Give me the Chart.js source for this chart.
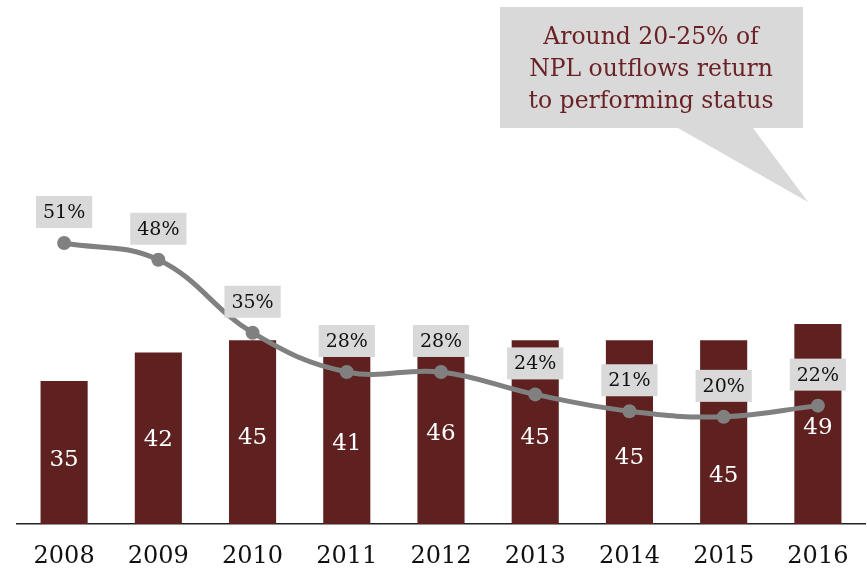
<!DOCTYPE html>
<html>
<head>
<meta charset="utf-8">
<script src="https://cdn.jsdelivr.net/npm/chart.js@4/dist/chart.umd.min.js"></script>
<style>
  html, body { margin: 0; padding: 0; background: #ffffff; }
  #wrap { width: 867px; height: 573px; position: relative; }
</style>
</head>
<body>
<div id="wrap"><canvas id="c" width="867" height="573"></canvas></div>
<script>
// NPL outflows (bars) and share returning to performing status (line, %)
const years = ['2008', '2009', '2010', '2011', '2012', '2013', '2014', '2015', '2016'];
const outflows = [35, 42, 45, 41, 46, 45, 45, 45, 49];
const returnShare = [51, 48, 35, 28, 28, 24, 21, 20, 22];
const calloutLines = ['Around 20-25% of', 'NPL outflows return', 'to performing status'];

// where each bar's value sits, as a fraction of the bar height from its base
const barLabelFrac = [0.45, 0.49, 0.47, 0.48, 0.48, 0.47, 0.36, 0.26, 0.48];

const SERIF = '"DejaVu Serif", "Liberation Serif", serif';
const BAR_COLOR = '#5e2120';
const LINE_COLOR = '#808080';
const BOX_COLOR = '#d9d9d9';

const labelPlugin = {
  id: 'labels',
  afterDatasetsDraw(chart) {
    const ctx = chart.ctx;
    const barMeta = chart.getDatasetMeta(0);
    const lineMeta = chart.getDatasetMeta(1);
    ctx.save();
    ctx.textAlign = 'center';
    ctx.textBaseline = 'middle';

    // values inside the bars
    ctx.font = '23px ' + SERIF;
    ctx.fillStyle = '#ffffff';
    barMeta.data.forEach((bar, i) => {
      const y = bar.base - (bar.base - bar.y) * barLabelFrac[i];
      ctx.fillText(String(outflows[i]), bar.x, y);
    });

    // percentage tags above the line points
    ctx.font = '19px ' + SERIF;
    lineMeta.data.forEach((pt, i) => {
      const txt = returnShare[i] + '%';
      const w = ctx.measureText(txt).width + 14;
      const h = 32;
      const cy = pt.y - 31;
      ctx.fillStyle = BOX_COLOR;
      ctx.fillRect(pt.x - w / 2, cy - h / 2, w, h);
      ctx.fillStyle = '#111111';
      ctx.fillText(txt, pt.x, cy + 1);
    });
    ctx.restore();
  },
  afterDraw(chart) {
    const ctx = chart.ctx;
    ctx.save();
    // speech-bubble callout
    ctx.fillStyle = BOX_COLOR;
    ctx.beginPath();
    ctx.moveTo(500, 7);
    ctx.lineTo(803, 7);
    ctx.lineTo(803, 128);
    ctx.lineTo(753, 128);
    ctx.lineTo(808, 202);
    ctx.lineTo(678, 128);
    ctx.lineTo(500, 128);
    ctx.closePath();
    ctx.fill();
    ctx.fillStyle = '#6b2226';
    ctx.font = '23.5px ' + SERIF;
    ctx.textAlign = 'center';
    ctx.textBaseline = 'middle';
    calloutLines.forEach((line, i) => {
      ctx.fillText(line, 651, 38 + i * 32);
    });
    ctx.restore();
  }
};

new Chart(document.getElementById('c'), {
  data: {
    labels: years,
    datasets: [
      {
        type: 'bar',
        data: outflows,
        backgroundColor: BAR_COLOR,
        borderWidth: 0,
        categoryPercentage: 1.0,
        barPercentage: 0.5,
        yAxisID: 'y',
        order: 2
      },
      {
        type: 'line',
        data: returnShare,
        borderColor: LINE_COLOR,
        backgroundColor: LINE_COLOR,
        borderWidth: 5,
        pointRadius: 7,
        pointBackgroundColor: LINE_COLOR,
        pointBorderWidth: 0,
        tension: 0.4,
        yAxisID: 'y1',
        order: 1
      }
    ]
  },
  options: {
    responsive: false,
    animation: false,
    layout: { autoPadding: false, padding: { left: 17, right: 2, top: 34, bottom: 0 } },
    plugins: { legend: { display: false }, tooltip: { enabled: false } },
    scales: {
      x: {
        grid: { display: false, drawTicks: false },
        border: { display: true, color: '#222222', width: 1.5 },
        ticks: { color: '#111111', font: { family: SERIF, size: 24 }, padding: 18 },
        afterFit(scale) {
          scale.height = 49;
          scale.paddingLeft = 0;
          scale.paddingRight = 0;
        }
      },
      y: { display: false, min: 0, max: 120 },
      y1: { display: false, min: 0.9, max: 88.25 }
    }
  },
  plugins: [labelPlugin]
});
</script>
</body>
</html>
